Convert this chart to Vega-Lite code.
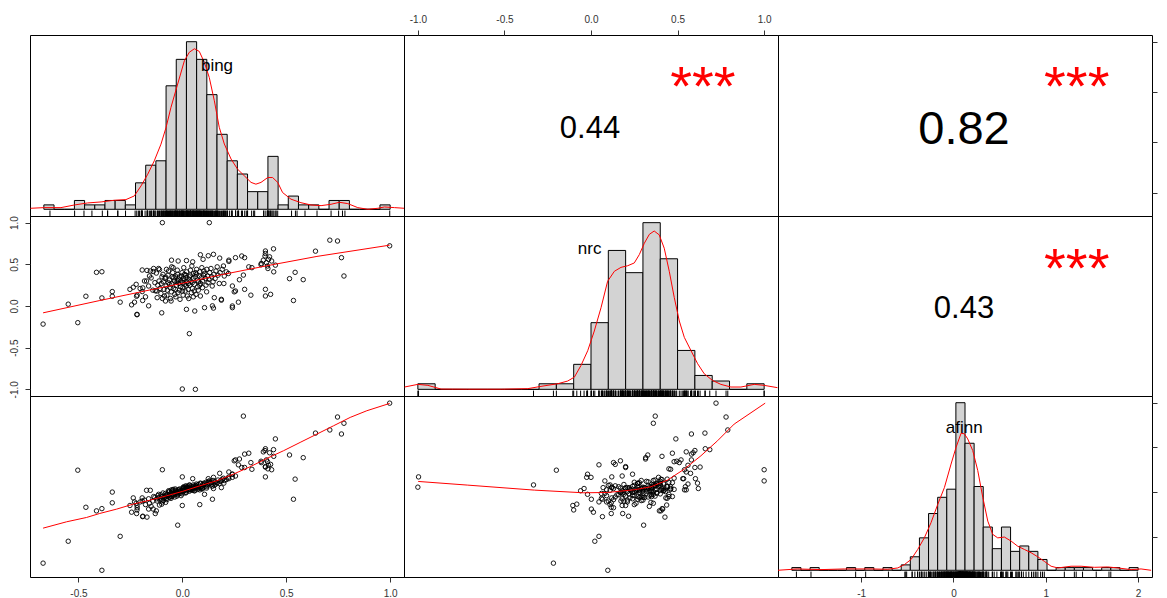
{
"$schema":"https://vega.github.io/schema/vega-lite/v6.json",
"background":"white",
"padding":{"left":8,"top":13,"right":11,"bottom":0},
"columns":3,
"spacing":0,
"bounds":"flush",
"resolve":{"scale":{"x":"independent","y":"independent"}},
"config":{"view":{"stroke":"black","strokeWidth":1},"concat":{"spacing":0}},
"datasets":{
"pts":[
{"b":-0.670,"n":-0.217,"a":-1.59},{"b":-0.549,"n":0.022,"a":-1.10},{"b":-0.503,"n":-0.200,"a":0.49},{"b":-0.464,"n":0.117,"a":-0.34},{"b":-0.413,"n":0.404,"a":-0.42},{"b":-0.387,"n":0.411,"a":-0.37},{"b":-0.387,"n":0.097,"a":-1.75},{"b":-0.337,"n":0.173,"a":0.00},{"b":-0.337,"n":0.117,"a":-0.24},{"b":-0.299,"n":0.046,"a":-0.99},{"b":-0.244,"n":0.014,"a":-0.45},{"b":-0.236,"n":0.225,"a":-0.13},{"b":-0.230,"n":0.046,"a":-0.22},{"b":-0.220,"n":0.117,"a":-0.48},{"b":-0.218,"n":-0.105,"a":-0.30},{"b":-0.218,"n":-0.100,"a":-0.40},{"b":-0.193,"n":0.432,"a":-0.13},{"b":-0.191,"n":0.066,"a":-0.55},{"b":-0.193,"n":0.173,"a":-0.20},{"b":-0.162,"n":0.002,"a":-0.38},{"b":-0.154,"n":0.420,"a":0.04},{"b":-0.096,"n":1.000,"a":0.50},{"b":0.130,"n":1.000,"a":0.25},{"b":0.000,"n":-0.996,"a":0.34},{"b":0.063,"n":-1.000,"a":0.11},{"b":0.034,"n":-0.332,"a":0.16},{"b":-0.099,"n":-0.082,"a":-0.27},{"b":0.087,"n":0.615,"a":0.20},{"b":0.125,"n":0.603,"a":0.30},{"b":-0.052,"n":0.550,"a":0.05},{"b":-0.051,"n":0.470,"a":-0.10},{"b":0.107,"n":-0.020,"a":-0.05},{"b":0.145,"n":0.002,"a":-0.16},{"b":0.188,"n":0.080,"a":0.25},{"b":0.188,"n":0.070,"a":0.10},{"b":0.241,"n":0.000,"a":0.33},{"b":0.241,"n":-0.020,"a":0.40},{"b":0.270,"n":0.046,"a":0.61},{"b":0.224,"n":0.550,"a":0.45},{"b":0.224,"n":0.535,"a":0.30},{"b":0.256,"n":0.580,"a":0.72},{"b":0.286,"n":0.600,"a":0.55},{"b":0.300,"n":0.580,"a":0.85},{"b":0.256,"n":0.180,"a":0.36},{"b":0.241,"n":0.240,"a":0.40},{"b":0.200,"n":0.270,"a":0.20},{"b":0.275,"n":0.315,"a":0.74},{"b":0.294,"n":0.371,"a":1.70},{"b":0.320,"n":0.470,"a":0.87},{"b":0.335,"n":0.460,"a":0.51},{"b":0.379,"n":0.495,"a":0.69},{"b":0.390,"n":0.550,"a":0.90},{"b":0.398,"n":0.600,"a":0.93},{"b":0.400,"n":0.660,"a":0.97},{"b":0.400,"n":0.630,"a":0.56},{"b":0.439,"n":0.686,"a":0.95},{"b":0.400,"n":0.200,"a":0.57},{"b":0.400,"n":0.120,"a":0.34},{"b":0.425,"n":0.140,"a":0.62},{"b":0.440,"n":0.410,"a":0.80},{"b":0.448,"n":0.490,"a":1.19},{"b":0.516,"n":0.328,"a":0.83},{"b":0.535,"n":0.066,"a":-0.16},{"b":0.543,"n":0.404,"a":0.29},{"b":0.582,"n":0.316,"a":0.77},{"b":0.641,"n":0.658,"a":1.32},{"b":0.710,"n":0.790,"a":1.39},{"b":0.747,"n":0.780,"a":1.68},{"b":0.766,"n":0.580,"a":1.30},{"b":0.778,"n":0.360,"a":1.54},{"b":0.998,"n":0.722,"a":1.99},{"b":-0.022,"n":0.304,"a":-0.74},{"b":0.084,"n":0.250,"a":-0.28},{"b":0.000,"n":0.180,"a":-0.30},{"b":-0.172,"n":0.300,"a":0.04},{"b":0.405,"n":0.520,"a":0.72},{"b":0.410,"n":0.480,"a":0.68},{"b":0.415,"n":0.560,"a":0.60},{"b":0.420,"n":0.590,"a":0.88},{"b":0.412,"n":0.450,"a":0.52},{"b":0.430,"n":0.540,"a":0.50},{"b":0.380,"n":0.510,"a":0.66},{"b":0.050,"n":0.530,"a":0.30},{"b":0.020,"n":0.545,"a":0.12},{"b":0.100,"n":0.560,"a":0.18},{"b":-0.020,"n":0.540,"a":0.05},{"b":0.150,"n":0.620,"a":0.08},{"b":0.180,"n":0.575,"a":0.42},{"b":0.330,"n":0.130,"a":0.66},{"b":0.250,"n":0.170,"a":0.70},{"b":0.300,"n":0.200,"a":0.55},{"b":-0.170,"n":0.427,"a":-0.56},{"b":-0.125,"n":0.395,"a":-0.42},{"b":-0.140,"n":0.414,"a":-0.38},{"b":-0.110,"n":0.437,"a":-0.29},{"b":-0.080,"n":0.346,"a":-0.23},{"b":-0.150,"n":0.337,"a":-0.32},{"b":-0.130,"n":0.183,"a":-0.48},{"b":-0.190,"n":0.217,"a":-0.54},{"b":0.060,"n":-0.060,"a":0.03},{"b":0.020,"n":-0.040,"a":0.08},{"b":0.150,"n":-0.025,"a":0.33},
{"b":-0.123,"n":0.18,"a":-0.15},{"b":-0.118,"n":0.25,"a":-0.08},{"b":-0.121,"n":0.10,"a":-0.20},{"b":-0.112,"n":0.30,"a":-0.12},{"b":-0.107,"n":0.21,"a":-0.18},{"b":-0.114,"n":0.45,"a":-0.05},{"b":-0.098,"n":0.35,"a":-0.10},{"b":-0.103,"n":0.15,"a":-0.06},{"b":-0.101,"n":0.27,"a":-0.16},{"b":-0.096,"n":0.09,"a":-0.22},{"b":-0.088,"n":0.20,"a":-0.09},{"b":-0.093,"n":0.38,"a":-0.02},{"b":-0.086,"n":0.12,"a":-0.13},{"b":-0.091,"n":0.29,"a":-0.19},{"b":-0.078,"n":0.24,"a":-0.07},{"b":-0.083,"n":0.33,"a":-0.11},{"b":-0.081,"n":0.06,"a":-0.03},{"b":-0.076,"n":0.44,"a":-0.14},{"b":-0.072,"n":0.19,"a":-0.05},{"b":-0.067,"n":0.28,"a":0.00},{"b":-0.069,"n":0.37,"a":-0.09},{"b":-0.074,"n":0.13,"a":-0.17},{"b":-0.066,"n":0.42,"a":0.03},{"b":-0.058,"n":0.22,"a":-0.04},{"b":-0.062,"n":0.31,"a":-0.12},{"b":-0.057,"n":0.09,"a":-0.08},{"b":-0.061,"n":0.26,"a":0.02},{"b":-0.048,"n":0.35,"a":-0.06},{"b":-0.053,"n":0.17,"a":-0.01},{"b":-0.051,"n":0.27,"a":-0.10},{"b":-0.046,"n":0.40,"a":0.04},{"b":-0.054,"n":0.06,"a":-0.14},{"b":-0.038,"n":0.30,"a":-0.03},{"b":-0.043,"n":0.21,"a":0.01},{"b":-0.041,"n":0.34,"a":-0.07},{"b":-0.036,"n":0.14,"a":-0.11},{"b":-0.044,"n":0.46,"a":0.06},{"b":-0.028,"n":0.25,"a":0.00},{"b":-0.033,"n":0.36,"a":-0.05},{"b":-0.031,"n":0.11,"a":0.04},{"b":-0.026,"n":0.29,"a":-0.09},{"b":-0.034,"n":0.20,"a":0.07},{"b":-0.018,"n":0.32,"a":0.02},{"b":-0.023,"n":0.38,"a":-0.02},{"b":-0.021,"n":0.16,"a":-0.06},{"b":-0.016,"n":0.27,"a":0.05},{"b":-0.024,"n":0.43,"a":0.01},{"b":-0.008,"n":0.23,"a":0.03},{"b":-0.013,"n":0.35,"a":0.07},{"b":-0.011,"n":0.08,"a":-0.03},{"b":-0.006,"n":0.30,"a":-0.08},{"b":-0.014,"n":0.19,"a":0.00},{"b":0.002,"n":0.28,"a":0.05},{"b":-0.003,"n":0.36,"a":0.01},{"b":0.004,"n":0.13,"a":0.08},{"b":-0.001,"n":0.40,"a":-0.04},{"b":0.003,"n":0.22,"a":0.10},{"b":0.006,"n":0.33,"a":0.02},{"b":0.012,"n":0.26,"a":0.04},{"b":0.008,"n":0.31,"a":0.09},{"b":0.014,"n":0.18,"a":-0.02},{"b":0.011,"n":0.38,"a":0.06},{"b":0.007,"n":0.46,"a":0.12},{"b":0.022,"n":0.29,"a":0.07},{"b":0.018,"n":0.34,"a":0.03},{"b":0.024,"n":0.12,"a":0.11},{"b":0.019,"n":0.24,"a":-0.01},{"b":0.021,"n":0.41,"a":0.08},{"b":0.017,"n":0.37,"a":0.14},{"b":0.032,"n":0.32,"a":0.06},{"b":0.028,"n":0.20,"a":0.10},{"b":0.034,"n":0.35,"a":0.02},{"b":0.029,"n":0.27,"a":0.13},{"b":0.031,"n":0.09,"a":0.05},{"b":0.042,"n":0.30,"a":0.09},{"b":0.038,"n":0.37,"a":0.05},{"b":0.044,"n":0.16,"a":0.12},{"b":0.039,"n":0.43,"a":0.07},{"b":0.036,"n":0.25,"a":0.15},{"b":0.052,"n":0.33,"a":0.08},{"b":0.048,"n":0.28,"a":0.04},{"b":0.054,"n":0.39,"a":0.13},{"b":0.049,"n":0.21,"a":0.10},{"b":0.046,"n":0.48,"a":0.06},{"b":0.053,"n":0.11,"a":0.16},{"b":0.062,"n":0.35,"a":0.11},{"b":0.058,"n":0.26,"a":0.07},{"b":0.064,"n":0.40,"a":0.15},{"b":0.057,"n":0.18,"a":0.03},{"b":0.072,"n":0.31,"a":0.10},{"b":0.068,"n":0.38,"a":0.18},{"b":0.074,"n":0.23,"a":0.06},{"b":0.069,"n":0.44,"a":0.12},{"b":0.066,"n":0.14,"a":0.14},{"b":0.082,"n":0.36,"a":0.13},{"b":0.078,"n":0.29,"a":0.09},{"b":0.084,"n":0.41,"a":0.05},{"b":0.077,"n":0.19,"a":0.17},{"b":0.092,"n":0.34,"a":0.12},{"b":0.088,"n":0.27,"a":0.19},{"b":0.094,"n":0.46,"a":0.08},{"b":0.087,"n":0.12,"a":0.10},{"b":0.102,"n":0.37,"a":0.15},{"b":0.098,"n":0.30,"a":0.11},{"b":0.104,"n":0.42,"a":0.20},{"b":0.097,"n":0.22,"a":0.07},{"b":0.112,"n":0.33,"a":0.14},{"b":0.108,"n":0.39,"a":0.18},{"b":0.114,"n":0.25,"a":0.22},{"b":0.122,"n":0.36,"a":0.16},{"b":0.118,"n":0.44,"a":0.12},{"b":0.124,"n":0.28,"a":0.21},{"b":0.117,"n":0.17,"a":0.09},{"b":0.132,"n":0.40,"a":0.19},{"b":0.128,"n":0.32,"a":0.24},{"b":0.142,"n":0.35,"a":0.17},{"b":0.138,"n":0.45,"a":0.22},{"b":0.144,"n":0.24,"a":0.13},{"b":0.152,"n":0.38,"a":0.20},{"b":0.148,"n":0.29,"a":0.26},{"b":0.154,"n":0.10,"a":0.15},{"b":0.162,"n":0.42,"a":0.18},{"b":0.158,"n":0.33,"a":0.23},{"b":0.172,"n":0.37,"a":0.27},{"b":0.168,"n":0.47,"a":0.21},{"b":0.182,"n":0.40,"a":0.24},{"b":0.178,"n":0.27,"a":0.19},{"b":0.192,"n":0.44,"a":0.29},{"b":0.202,"n":0.36,"a":0.26},{"b":0.198,"n":0.48,"a":0.31},{"b":0.212,"n":0.41,"a":0.28},{"b":0.222,"n":0.39,"a":0.33},{"b":-0.252,"n":0.20,"a":-0.30},{"b":-0.222,"n":0.26,"a":-0.25},{"b":-0.217,"n":0.13,"a":-0.35},{"b":-0.203,"n":0.21,"a":-0.22},{"b":-0.182,"n":0.30,"a":-0.18},{"b":-0.177,"n":0.11,"a":-0.28},{"b":-0.162,"n":0.24,"a":-0.15},{"b":-0.158,"n":0.36,"a":-0.25},{"b":-0.142,"n":0.19,"a":-0.20},{"b":-0.138,"n":0.45,"a":-0.10},{"b":-0.132,"n":0.28,"a":-0.12}
],
"hb":[
{"x0":-0.70,"x1":-0.65,"c":1},{"x0":-0.65,"x1":-0.60,"c":0},{"x0":-0.60,"x1":-0.55,"c":0},{"x0":-0.55,"x1":-0.50,"c":2},{"x0":-0.50,"x1":-0.45,"c":1},{"x0":-0.45,"x1":-0.40,"c":1},{"x0":-0.40,"x1":-0.35,"c":2},{"x0":-0.35,"x1":-0.30,"c":2},{"x0":-0.30,"x1":-0.25,"c":1},{"x0":-0.25,"x1":-0.20,"c":6},{"x0":-0.20,"x1":-0.15,"c":10},{"x0":-0.15,"x1":-0.10,"c":11},{"x0":-0.10,"x1":-0.05,"c":28},{"x0":-0.05,"x1":0.00,"c":34},{"x0":0.00,"x1":0.05,"c":38},{"x0":0.05,"x1":0.10,"c":34},{"x0":0.10,"x1":0.15,"c":26},{"x0":0.15,"x1":0.20,"c":17},{"x0":0.20,"x1":0.25,"c":11},{"x0":0.25,"x1":0.30,"c":8},{"x0":0.30,"x1":0.35,"c":4},{"x0":0.35,"x1":0.40,"c":4},{"x0":0.40,"x1":0.45,"c":12},{"x0":0.45,"x1":0.50,"c":1},{"x0":0.50,"x1":0.55,"c":3},{"x0":0.55,"x1":0.60,"c":1},{"x0":0.60,"x1":0.65,"c":1},{"x0":0.65,"x1":0.70,"c":0},{"x0":0.70,"x1":0.75,"c":2},{"x0":0.75,"x1":0.80,"c":2},{"x0":0.80,"x1":0.85,"c":0},{"x0":0.85,"x1":0.90,"c":0},{"x0":0.90,"x1":0.95,"c":0},{"x0":0.95,"x1":1.00,"c":1}
],
"hn":[
{"x0":-1.0,"x1":-0.9,"c":2},{"x0":-0.9,"x1":-0.8,"c":0},{"x0":-0.8,"x1":-0.7,"c":0},{"x0":-0.7,"x1":-0.6,"c":0},{"x0":-0.6,"x1":-0.5,"c":0},{"x0":-0.5,"x1":-0.4,"c":0},{"x0":-0.4,"x1":-0.3,"c":0},{"x0":-0.3,"x1":-0.2,"c":2},{"x0":-0.2,"x1":-0.1,"c":2},{"x0":-0.1,"x1":0.0,"c":9},{"x0":0.0,"x1":0.1,"c":24},{"x0":0.1,"x1":0.2,"c":50},{"x0":0.2,"x1":0.3,"c":42},{"x0":0.3,"x1":0.4,"c":60},{"x0":0.4,"x1":0.5,"c":47},{"x0":0.5,"x1":0.6,"c":14},{"x0":0.6,"x1":0.7,"c":5},{"x0":0.7,"x1":0.8,"c":3},{"x0":0.8,"x1":0.9,"c":0},{"x0":0.9,"x1":1.0,"c":2}
],
"ha":[
{"x0":-1.8,"x1":-1.7,"c":1},{"x0":-1.7,"x1":-1.6,"c":0},{"x0":-1.6,"x1":-1.5,"c":1},{"x0":-1.5,"x1":-1.4,"c":0},{"x0":-1.4,"x1":-1.3,"c":0},{"x0":-1.3,"x1":-1.2,"c":0},{"x0":-1.2,"x1":-1.1,"c":1},{"x0":-1.1,"x1":-1.0,"c":0},{"x0":-1.0,"x1":-0.9,"c":1},{"x0":-0.9,"x1":-0.8,"c":0},{"x0":-0.8,"x1":-0.7,"c":1},{"x0":-0.7,"x1":-0.6,"c":0},{"x0":-0.6,"x1":-0.5,"c":2},{"x0":-0.5,"x1":-0.4,"c":5},{"x0":-0.4,"x1":-0.3,"c":12},{"x0":-0.3,"x1":-0.2,"c":21},{"x0":-0.2,"x1":-0.1,"c":27},{"x0":-0.1,"x1":0.0,"c":30},{"x0":0.0,"x1":0.1,"c":62},{"x0":0.1,"x1":0.2,"c":47},{"x0":0.2,"x1":0.3,"c":31},{"x0":0.3,"x1":0.4,"c":16},{"x0":0.4,"x1":0.5,"c":8},{"x0":0.5,"x1":0.6,"c":16},{"x0":0.6,"x1":0.7,"c":7},{"x0":0.7,"x1":0.8,"c":9},{"x0":0.8,"x1":0.9,"c":7},{"x0":0.9,"x1":1.0,"c":4},{"x0":1.0,"x1":1.1,"c":0},{"x0":1.1,"x1":1.2,"c":1},{"x0":1.2,"x1":1.3,"c":1},{"x0":1.3,"x1":1.4,"c":1},{"x0":1.4,"x1":1.5,"c":1},{"x0":1.5,"x1":1.6,"c":0},{"x0":1.6,"x1":1.7,"c":1},{"x0":1.7,"x1":1.8,"c":1},{"x0":1.8,"x1":1.9,"c":0},{"x0":1.9,"x1":2.0,"c":1}
],
"db":[
{"x":-0.766,"y":0.23},{"x":-0.698,"y":0.38},{"x":-0.616,"y":0.38},{"x":-0.550,"y":0.98},{"x":-0.485,"y":1.44},{"x":-0.419,"y":1.67},{"x":-0.354,"y":2.05},{"x":-0.297,"y":2.2},{"x":-0.256,"y":3.03},{"x":-0.223,"y":5.3},{"x":-0.190,"y":7.95},{"x":-0.158,"y":10.98},{"x":-0.125,"y":14.77},{"x":-0.100,"y":18.56},{"x":-0.076,"y":23.1},{"x":-0.043,"y":28.4},{"x":-0.010,"y":33.7},{"x":0.014,"y":35.6},{"x":0.039,"y":36.4},{"x":0.063,"y":35.8},{"x":0.088,"y":33.3},{"x":0.112,"y":29.9},{"x":0.137,"y":24.6},{"x":0.161,"y":18.6},{"x":0.186,"y":14.8},{"x":0.219,"y":11.4},{"x":0.251,"y":9.1},{"x":0.284,"y":7.6},{"x":0.317,"y":6.1},{"x":0.341,"y":5.7},{"x":0.366,"y":6.1},{"x":0.399,"y":7.2},{"x":0.423,"y":7.2},{"x":0.448,"y":6.1},{"x":0.472,"y":3.8},{"x":0.513,"y":2.3},{"x":0.562,"y":1.5},{"x":0.611,"y":0.98},{"x":0.661,"y":0.83},{"x":0.710,"y":1.14},{"x":0.751,"y":1.59},{"x":0.792,"y":1.29},{"x":0.841,"y":0.38},{"x":0.890,"y":0.0},{"x":0.939,"y":0.23},{"x":0.972,"y":0.53},{"x":1.021,"y":0.38},{"x":1.070,"y":0.23}
],
"dn":[
{"x":-1.077,"y":0.83},{"x":-1.0,"y":1.79},{"x":-0.942,"y":1.43},{"x":-0.866,"y":0.1},{"x":-0.712,"y":0.05},{"x":-0.519,"y":0.05},{"x":-0.365,"y":0.24},{"x":-0.289,"y":1.07},{"x":-0.192,"y":2.02},{"x":-0.135,"y":2.98},{"x":-0.096,"y":4.4},{"x":-0.058,"y":8.57},{"x":-0.019,"y":13.9},{"x":0.019,"y":21.0},{"x":0.058,"y":29.4},{"x":0.096,"y":38.9},{"x":0.135,"y":42.5},{"x":0.173,"y":43.9},{"x":0.212,"y":44.5},{"x":0.25,"y":45.5},{"x":0.279,"y":48.5},{"x":0.308,"y":52.6},{"x":0.337,"y":55.8},{"x":0.365,"y":57.0},{"x":0.394,"y":55.6},{"x":0.423,"y":50.8},{"x":0.452,"y":42.5},{"x":0.481,"y":33.0},{"x":0.51,"y":24.6},{"x":0.539,"y":18.7},{"x":0.577,"y":14.0},{"x":0.616,"y":9.2},{"x":0.654,"y":5.6},{"x":0.702,"y":3.2},{"x":0.75,"y":1.79},{"x":0.808,"y":0.83},{"x":0.866,"y":0.83},{"x":0.943,"y":1.79},{"x":1.0,"y":1.43},{"x":1.077,"y":0.6}
],
"da":[
{"x":-1.956,"y":0.0},{"x":-1.736,"y":0.5},{"x":-1.480,"y":0.25},{"x":-1.224,"y":0.5},{"x":-0.931,"y":0.5},{"x":-0.748,"y":0.37},{"x":-0.638,"y":0.87},{"x":-0.565,"y":2.1},{"x":-0.492,"y":4.0},{"x":-0.419,"y":7.7},{"x":-0.346,"y":12.0},{"x":-0.273,"y":17.6},{"x":-0.199,"y":24.4},{"x":-0.126,"y":30.6},{"x":-0.053,"y":39.3},{"x":0.002,"y":45.5},{"x":0.057,"y":50.7},{"x":0.093,"y":50.5},{"x":0.130,"y":48.6},{"x":0.185,"y":44.3},{"x":0.240,"y":36.9},{"x":0.295,"y":27.0},{"x":0.350,"y":18.2},{"x":0.404,"y":13.3},{"x":0.459,"y":12.0},{"x":0.532,"y":12.3},{"x":0.606,"y":10.8},{"x":0.679,"y":8.9},{"x":0.752,"y":7.7},{"x":0.825,"y":6.5},{"x":0.898,"y":5.0},{"x":0.971,"y":3.3},{"x":1.045,"y":1.5},{"x":1.118,"y":0.87},{"x":1.264,"y":1.5},{"x":1.374,"y":1.5},{"x":1.520,"y":1.1},{"x":1.667,"y":1.24},{"x":1.776,"y":0.87},{"x":1.923,"y":0.25},{"x":2.032,"y":0.5},{"x":2.142,"y":0.0}
],
"lbn":[
{"x":-0.670,"y":-0.082},{"x":-0.397,"y":0.066},{"x":-0.155,"y":0.193},{"x":0.0,"y":0.272},{"x":0.166,"y":0.364},{"x":0.407,"y":0.483},{"x":0.648,"y":0.595},{"x":0.998,"y":0.730}
],
"lba":[
{"x":-0.670,"y":-0.807},{"x":-0.557,"y":-0.665},{"x":-0.461,"y":-0.568},{"x":-0.397,"y":-0.478},{"x":-0.316,"y":-0.381},{"x":-0.236,"y":-0.269},{"x":-0.155,"y":-0.18},{"x":-0.075,"y":-0.083},{"x":0.0,"y":0.014},{"x":0.085,"y":0.141},{"x":0.166,"y":0.253},{"x":0.246,"y":0.402},{"x":0.326,"y":0.566},{"x":0.407,"y":0.753},{"x":0.487,"y":0.925},{"x":0.567,"y":1.111},{"x":0.648,"y":1.298},{"x":0.728,"y":1.484},{"x":0.808,"y":1.671},{"x":0.888,"y":1.82},{"x":0.998,"y":1.984}
],
"lna":[
{"x":-0.998,"y":0.238},{"x":-0.712,"y":0.156},{"x":-0.327,"y":0.044},{"x":-0.042,"y":-0.016},{"x":0.096,"y":-0.008},{"x":0.25,"y":0.052},{"x":0.346,"y":0.119},{"x":0.442,"y":0.268},{"x":0.539,"y":0.514},{"x":0.635,"y":0.813},{"x":0.731,"y":1.149},{"x":0.827,"y":1.522},{"x":1.006,"y":1.99}
]
},
"concat":[
{"width":374,"height":181,"layer":[
 {"data":{"name":"hb"},"mark":{"type":"rect","fill":"#d3d3d3","stroke":"black","strokeWidth":1},
  "encoding":{"x":{"field":"x0","type":"quantitative","scale":{"domain":[-0.768,1.068],"nice":false,"zero":false},"axis":null},"x2":{"field":"x1"},
   "y":{"field":"c","type":"quantitative","scale":{"domain":[-1.52,39.52],"nice":false,"zero":false},"axis":null},"y2":{"datum":0}}},
 {"data":{"name":"db"},"mark":{"type":"line","color":"red","strokeWidth":1,"clip":true},
  "encoding":{"x":{"field":"x","type":"quantitative","axis":null},"y":{"field":"y","type":"quantitative","axis":null}}},
 {"data":{"name":"pts"},"mark":{"type":"rule","color":"black","strokeWidth":1},
  "encoding":{"x":{"field":"b","type":"quantitative","axis":null},"y":{"datum":-1.52,"type":"quantitative","axis":null},"y2":{"datum":-0.29}}},
 {"data":{"values":[{}]},"mark":{"type":"text","text":"bing","font":"Liberation Sans","fontSize":17,"align":"center","baseline":"alphabetic","color":"black"},
  "encoding":{"x":{"datum":0.15,"type":"quantitative","axis":null},"y":{"datum":31.4,"type":"quantitative","axis":null}}}
]},
{"width":374,"height":181,"layer":[
 {"data":{"values":[{}]},"mark":{"type":"text","text":"0.44","font":"Liberation Sans","fontSize":31,"align":"center","baseline":"alphabetic","color":"black"},
  "encoding":{"x":{"datum":-0.006,"type":"quantitative","scale":{"domain":[-1.08,1.08],"nice":false,"zero":false},
    "axis":{"orient":"top","values":[-1,-0.5,0,0.5,1],"format":".1f","labelExpr":"replace(datum.label,'\u2212','-')","domain":false,"grid":false,"tickSize":5,"tickColor":"#333","labelColor":"#333","labelFont":"Liberation Sans","labelFontSize":10,"labelPadding":6,"title":null}},
   "y":{"datum":0.04,"type":"quantitative","scale":{"domain":[-0.733,1.067],"nice":false,"zero":false},"axis":null}}},
 {"data":{"values":[{}]},"mark":{"type":"text","text":"***","font":"Liberation Sans","fontSize":56,"align":"center","baseline":"alphabetic","color":"red"},
  "encoding":{"x":{"datum":0.646,"type":"quantitative",
    "axis":{"orient":"top","values":[-1,-0.5,0,0.5,1],"format":".1f","labelExpr":"replace(datum.label,'\u2212','-')","domain":false,"grid":false,"tickSize":5,"tickColor":"#333","labelColor":"#333","labelFont":"Liberation Sans","labelFontSize":10,"labelPadding":6,"title":null}},
   "y":{"datum":0.367,"type":"quantitative","axis":null}}}
]},
{"width":374,"height":181,"layer":[
 {"data":{"values":[{}]},"mark":{"type":"text","text":"0.82","font":"Liberation Sans","fontSize":47,"align":"center","baseline":"alphabetic","color":"black"},
  "encoding":{"x":{"datum":0.114,"type":"quantitative","scale":{"domain":[-1.9,2.15],"nice":false,"zero":false},"axis":null},
   "y":{"datum":-0.02,"type":"quantitative","scale":{"domain":[-0.733,1.067],"nice":false,"zero":false},
    "axis":{"orient":"right","values":[-0.5,0,0.5,1],"labels":false,"domain":false,"grid":false,"tickSize":5,"tickColor":"#333","title":null}}}},
 {"data":{"values":[{}]},"mark":{"type":"text","text":"***","font":"Liberation Sans","fontSize":56,"align":"center","baseline":"alphabetic","color":"red"},
  "encoding":{"x":{"datum":1.335,"type":"quantitative","axis":null},"y":{"datum":0.367,"type":"quantitative",
    "axis":{"orient":"right","values":[-0.5,0,0.5,1],"labels":false,"domain":false,"grid":false,"tickSize":5,"tickColor":"#333","title":null}}}}
]},
{"width":374,"height":180,"layer":[
 {"data":{"name":"pts"},"mark":{"type":"point","shape":"circle","filled":false,"size":20,"color":"black","strokeWidth":1,"opacity":0.9},
  "encoding":{"x":{"field":"b","type":"quantitative","scale":{"domain":[-0.733,1.067],"nice":false,"zero":false},"axis":null},
   "y":{"field":"n","type":"quantitative","scale":{"domain":[-1.08,1.08],"nice":false,"zero":false},
    "axis":{"orient":"left","values":[-1,-0.5,0,0.5,1],"format":".1f","labelExpr":"replace(datum.label,'\u2212','-')","labelAngle":-90,"labelAlign":"center","labelBaseline":"bottom","domain":false,"grid":false,"tickSize":5,"tickColor":"#333","labelColor":"#333","labelFont":"Liberation Sans","labelFontSize":10,"labelPadding":6,"title":null}}}},
 {"data":{"name":"lbn"},"mark":{"type":"line","color":"red","strokeWidth":1,"clip":true},
  "encoding":{"x":{"field":"x","type":"quantitative","axis":null},"y":{"field":"y","type":"quantitative",
    "axis":{"orient":"left","values":[-1,-0.5,0,0.5,1],"format":".1f","labelExpr":"replace(datum.label,'\u2212','-')","labelAngle":-90,"labelAlign":"center","labelBaseline":"bottom","domain":false,"grid":false,"tickSize":5,"tickColor":"#333","labelColor":"#333","labelFont":"Liberation Sans","labelFontSize":10,"labelPadding":6,"title":null}}}}
]},
{"width":374,"height":180,"layer":[
 {"data":{"name":"hn"},"mark":{"type":"rect","fill":"#d3d3d3","stroke":"black","strokeWidth":1},
  "encoding":{"x":{"field":"x0","type":"quantitative","scale":{"domain":[-1.08,1.08],"nice":false,"zero":false},"axis":null},"x2":{"field":"x1"},
   "y":{"field":"c","type":"quantitative","scale":{"domain":[-2.4,62.4],"nice":false,"zero":false},"axis":null},"y2":{"datum":0}}},
 {"data":{"name":"dn"},"mark":{"type":"line","color":"red","strokeWidth":1,"clip":true},
  "encoding":{"x":{"field":"x","type":"quantitative","axis":null},"y":{"field":"y","type":"quantitative","axis":null}}},
 {"data":{"name":"pts"},"mark":{"type":"rule","color":"black","strokeWidth":1},
  "encoding":{"x":{"field":"n","type":"quantitative","axis":null},"y":{"datum":-2.4,"type":"quantitative","axis":null},"y2":{"datum":-0.456}}},
 {"data":{"values":[{}]},"mark":{"type":"text","text":"nrc","font":"Liberation Sans","fontSize":17,"align":"center","baseline":"alphabetic","color":"black"},
  "encoding":{"x":{"datum":-0.008,"type":"quantitative","axis":null},"y":{"datum":48.8,"type":"quantitative","axis":null}}}
]},
{"width":374,"height":180,"layer":[
 {"data":{"values":[{}]},"mark":{"type":"text","text":"0.43","font":"Liberation Sans","fontSize":31,"align":"center","baseline":"alphabetic","color":"black"},
  "encoding":{"x":{"datum":0.114,"type":"quantitative","scale":{"domain":[-1.9,2.15],"nice":false,"zero":false},"axis":null},
   "y":{"datum":-0.144,"type":"quantitative","scale":{"domain":[-1.08,1.08],"nice":false,"zero":false},"axis":null}}},
 {"data":{"values":[{}]},"mark":{"type":"text","text":"***","font":"Liberation Sans","fontSize":56,"align":"center","baseline":"alphabetic","color":"red"},
  "encoding":{"x":{"datum":1.335,"type":"quantitative","axis":null},"y":{"datum":0.228,"type":"quantitative","axis":null}}}
]},
{"width":374,"height":181,"layer":[
 {"data":{"name":"pts"},"mark":{"type":"point","shape":"circle","filled":false,"size":20,"color":"black","strokeWidth":1,"opacity":0.9},
  "encoding":{"x":{"field":"b","type":"quantitative","scale":{"domain":[-0.733,1.067],"nice":false,"zero":false},
    "axis":{"orient":"bottom","values":[-0.5,0,0.5,1],"format":".1f","labelExpr":"replace(datum.label,'\u2212','-')","domain":false,"grid":false,"tickSize":5,"tickColor":"#333","labelColor":"#333","labelFont":"Liberation Sans","labelFontSize":10,"labelPadding":6,"title":null}},
   "y":{"field":"a","type":"quantitative","scale":{"domain":[-1.9,2.15],"nice":false,"zero":false},"axis":null}}},
 {"data":{"name":"lba"},"mark":{"type":"line","color":"red","strokeWidth":1,"clip":true},
  "encoding":{"x":{"field":"x","type":"quantitative",
    "axis":{"orient":"bottom","values":[-0.5,0,0.5,1],"format":".1f","labelExpr":"replace(datum.label,'\u2212','-')","domain":false,"grid":false,"tickSize":5,"tickColor":"#333","labelColor":"#333","labelFont":"Liberation Sans","labelFontSize":10,"labelPadding":6,"title":null}},
   "y":{"field":"y","type":"quantitative","axis":null}}}
]},
{"width":374,"height":181,"layer":[
 {"data":{"name":"pts"},"mark":{"type":"point","shape":"circle","filled":false,"size":20,"color":"black","strokeWidth":1,"opacity":0.9},
  "encoding":{"x":{"field":"n","type":"quantitative","scale":{"domain":[-1.08,1.08],"nice":false,"zero":false},"axis":null},
   "y":{"field":"a","type":"quantitative","scale":{"domain":[-1.9,2.15],"nice":false,"zero":false},"axis":null}}},
 {"data":{"name":"lna"},"mark":{"type":"line","color":"red","strokeWidth":1,"clip":true},
  "encoding":{"x":{"field":"x","type":"quantitative","axis":null},"y":{"field":"y","type":"quantitative","axis":null}}}
]},
{"width":374,"height":181,"resolve":{"scale":{"x":"independent","y":"independent"}},"layer":[
 {"data":{"name":"ha"},"mark":{"type":"rect","fill":"#d3d3d3","stroke":"black","strokeWidth":1},
  "encoding":{"x":{"field":"x0","type":"quantitative","scale":{"domain":[-1.952,2.152],"nice":false,"zero":false},"axis":null},"x2":{"field":"x1"},
   "y":{"field":"c","type":"quantitative","scale":{"domain":[-2.48,64.48],"nice":false,"zero":false},"axis":null},"y2":{"datum":0}}},
 {"data":{"name":"da"},"mark":{"type":"line","color":"red","strokeWidth":1,"clip":true},
  "encoding":{"x":{"field":"x","type":"quantitative","scale":{"domain":[-1.952,2.152],"nice":false,"zero":false},"axis":null},
   "y":{"field":"y","type":"quantitative","scale":{"domain":[-2.48,64.48],"nice":false,"zero":false},"axis":null}}},
 {"data":{"name":"pts"},"mark":{"type":"rule","color":"black","strokeWidth":1},
  "encoding":{"x":{"field":"a","type":"quantitative","scale":{"domain":[-1.952,2.152],"nice":false,"zero":false},"axis":null},
   "y":{"datum":-2.48,"type":"quantitative","scale":{"domain":[-2.48,64.48],"nice":false,"zero":false},"axis":null},"y2":{"datum":-0.47}}},
 {"data":{"values":[{}]},"mark":{"type":"text","text":"afinn","font":"Liberation Sans","fontSize":17,"align":"center","baseline":"alphabetic","color":"black"},
  "encoding":{"x":{"datum":0.092,"type":"quantitative","scale":{"domain":[-1.952,2.152],"nice":false,"zero":false},"axis":null},
   "y":{"datum":50.8,"type":"quantitative","scale":{"domain":[-2.48,64.48],"nice":false,"zero":false},"axis":null}}},
 {"data":{"values":[{}]},"mark":{"type":"point","opacity":0},
  "encoding":{"x":{"datum":0,"type":"quantitative","scale":{"domain":[-1.9,2.15],"nice":false,"zero":false},
    "axis":{"orient":"bottom","values":[-1,0,1,2],"format":"d","labelExpr":"replace(datum.label,'\u2212','-')","domain":false,"grid":false,"tickSize":5,"tickColor":"#333","labelColor":"#333","labelFont":"Liberation Sans","labelFontSize":10,"labelPadding":6,"title":null}},
   "y":{"datum":0,"type":"quantitative","scale":{"domain":[-1.9,2.15],"nice":false,"zero":false},
    "axis":{"orient":"right","values":[-1,0,1,2],"labels":false,"domain":false,"grid":false,"tickSize":5,"tickColor":"#333","title":null}}}}
]}
]
}
